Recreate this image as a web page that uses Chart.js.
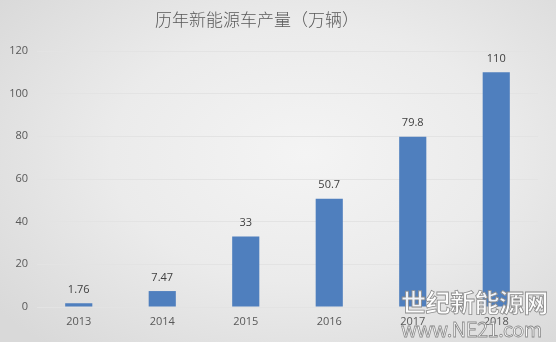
<!DOCTYPE html>
<html>
<head>
<meta charset="utf-8">
<script src="https://cdn.jsdelivr.net/npm/chart.js@4/dist/chart.umd.min.js"></script>
<style>
  html, body { margin: 0; padding: 0; }
  body {
    width: 556px; height: 342px; overflow: hidden; position: relative;
    background: radial-gradient(ellipse 70% 75% at 55% 45%, #f4f4f4 0%, #ebebeb 50%, #d9d9d9 100%);
  }
  #wrap { position: absolute; left: 0; top: 0; width: 556px; height: 342px; }
  #title {
    position: absolute; left: 0; width: 514px; top: 6px; text-align: center;
    font-family: "Noto Sans CJK SC", "Noto Sans", sans-serif; font-size: 17px; font-weight: 300;
    color: #595959; letter-spacing: 0px;
  }
  .wm {
    position: absolute; font-family: "Noto Sans CJK SC", "DejaVu Sans", sans-serif;
    color: rgba(255,255,255,0.9); -webkit-text-stroke: 0.8px #8a8a8a; white-space: nowrap;
  }
  #wm1 { left: 401px; top: 283px; font-size: 25px; font-weight: 700; letter-spacing: -0.5px; }
  #wm2 { left: 401px; top: 314px; font-size: 20px; font-weight: 400; letter-spacing: -0.5px; }
</style>
</head>
<body>
<div id="wrap"><canvas id="c" width="556" height="342"></canvas></div>
<div id="title">历年新能源车产量（万辆）</div>
<div class="wm" id="wm1">世纪新能源网</div>
<div class="wm" id="wm2">www.NE21.com</div>
<script>
const categories = ["2013", "2014", "2015", "2016", "2017", "2018"];
const production = [1.76, 7.47, 33, 50.7, 79.8, 110];
const valueLabels = ["1.76", "7.47", "33", "50.7", "79.8", "110"];
const yTicks = [0, 20, 40, 60, 80, 100, 120];

const valueLabelPlugin = {
  id: 'valueLabels',
  afterDatasetsDraw(chart) {
    const ctx = chart.ctx;
    const meta = chart.getDatasetMeta(0);
    ctx.save();
    ctx.font = '11px "Open Sans", "DejaVu Sans", sans-serif';
    ctx.fillStyle = '#404040';
    ctx.textAlign = 'center';
    ctx.textBaseline = 'bottom';
    meta.data.forEach((bar, i) => {
      ctx.fillText(valueLabels[i], bar.x, bar.y - 8);
    });
    ctx.restore();
  }
};

new Chart(document.getElementById('c'), {
  type: 'bar',
  data: {
    labels: categories,
    datasets: [{
      data: production,
      backgroundColor: '#4f7fbe',
      barPercentage: 0.65,
      categoryPercentage: 0.5
    }]
  },
  options: {
    responsive: false,
    animation: false,
    layout: { padding: { left: 0, right: 18, top: 51, bottom: 0 } },
    plugins: { legend: { display: false }, title: { display: false }, tooltip: { enabled: false } },
    scales: {
      x: {
        grid: { display: false, drawTicks: false },
        border: { display: false },
        ticks: { color: '#595959', padding: 8, font: { size: 11, family: '"Open Sans", "DejaVu Sans", sans-serif' } },
        afterFit(scale) { scale.height = 35; }
      },
      y: {
        min: 0, max: 120,
        afterBuildTicks(scale) { scale.ticks = yTicks.map(v => ({ value: v })); },
        grid: { color: '#e3e3e3', lineWidth: 1, drawTicks: false },
        border: { display: false },
        ticks: { color: '#595959', padding: 9, font: { size: 11, family: '"Open Sans", "DejaVu Sans", sans-serif' } },
        afterFit(scale) { scale.width = 37; }
      }
    }
  },
  plugins: [valueLabelPlugin]
});
</script>
</body>
</html>
